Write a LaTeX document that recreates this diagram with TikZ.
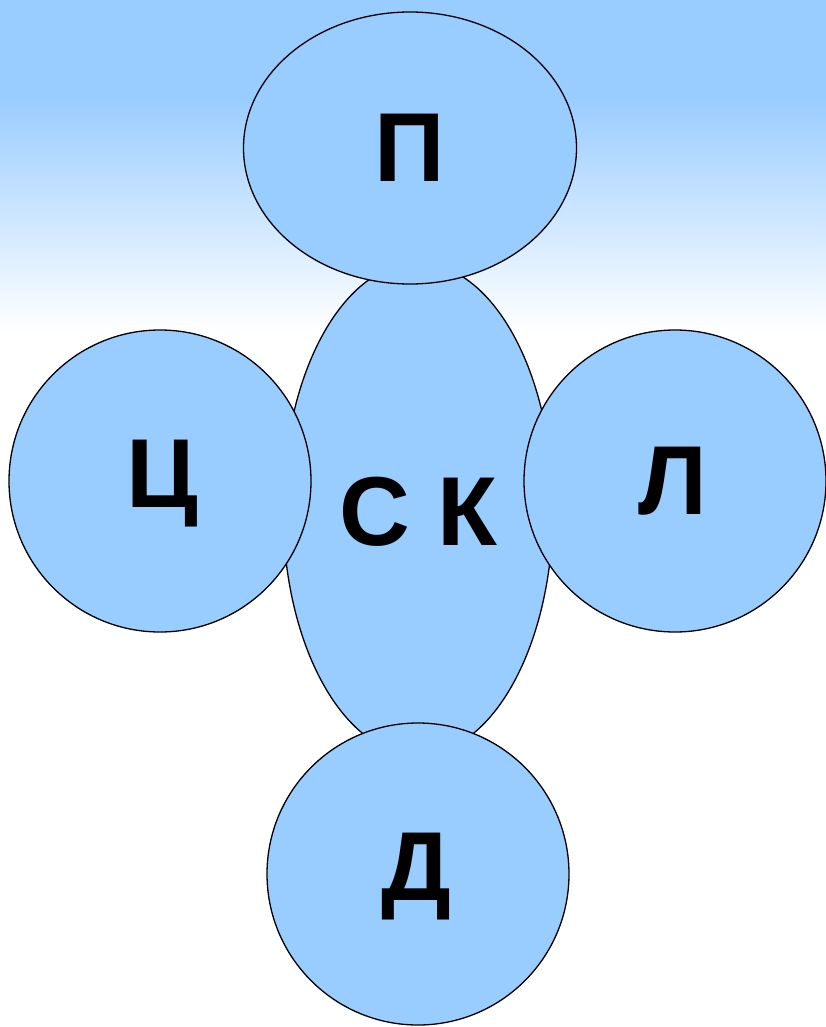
\documentclass[tikz,border=0pt]{standalone}
\usepackage{fontspec}
\setmainfont{Liberation Sans}
\usetikzlibrary{shapes.geometric}
\definecolor{skyb}{HTML}{99CCFF}
\begin{document}
\begin{tikzpicture}[x=1pt,y=-1pt,
  blob/.style={ellipse,draw=black,line width=1.3pt,fill=skyb,inner sep=0pt},
  lbl/.style={font=\fontsize{98}{100}\selectfont\bfseries,text=black}]
\useasboundingbox (0,0) rectangle (826,1027);
\fill[white] (0,0) rectangle (826,1027);
\fill[skyb] (0,0) rectangle (826,97);
\shade[top color=skyb,bottom color=white] (0,96) rectangle (826,332);
\node[blob,minimum width=270pt,minimum height=492pt] (sk) at (418,509) {};
\node[lbl] at (418,512) {С К};
\node[blob,minimum width=333pt,minimum height=272pt] (p) at (410,148) {};
\node[lbl] at (p) {П};
\node[blob,minimum width=302pt,minimum height=302pt] (c) at (160,481) {};
\node[lbl] at (162,484) {Ц};
\node[blob,minimum width=302pt,minimum height=302pt] (l) at (675,481) {};
\node[lbl] at (673,481) {Л};
\node[blob,minimum width=302pt,minimum height=302pt] (d) at (418,874) {};
\node[lbl] at (416,877) {Д};
\end{tikzpicture}
\end{document}
